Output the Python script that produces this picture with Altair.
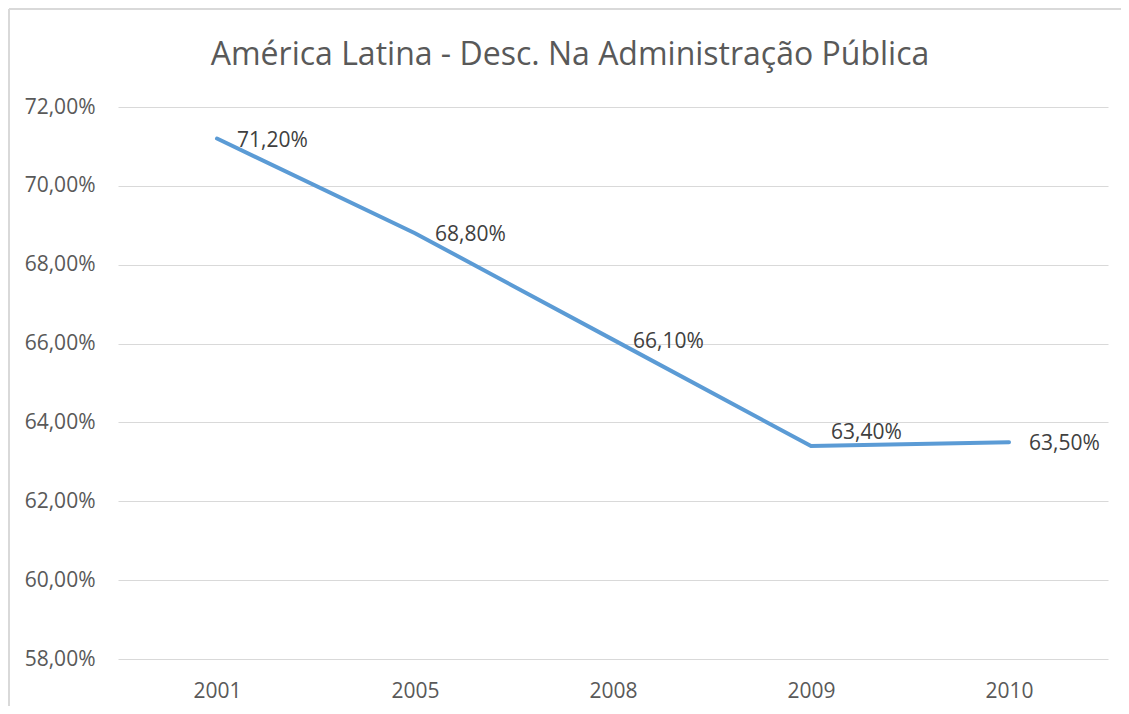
import altair as alt
import pandas as pd

years = ["2001", "2005", "2008", "2009", "2010"]
values = [71.20, 68.80, 66.10, 63.40, 63.50]
y_ticks = [58, 60, 62, 64, 66, 68, 70, 72]
title_text = "América Latina - Desc. Na Administração Pública"

df = pd.DataFrame({"ano": years, "valor": values})

FONT = "Open Sans"
GRAY = "#595959"
FS = 21

x_enc = alt.X("ano:N", sort=years, title=None,
              scale=alt.Scale(padding=0.5),
              axis=alt.Axis(labelAngle=0, domain=False, ticks=False, tickSize=0,
                            grid=False, labelFontSize=FS, labelFont=FONT,
                            labelColor=GRAY, labelPadding=21))
y_enc = alt.Y("valor:Q", title=None,
              scale=alt.Scale(domain=[58, 72], nice=False, zero=False),
              axis=alt.Axis(values=y_ticks, domain=False, ticks=False, tickSize=0,
                            grid=True, gridColor="#D9D9D9", gridWidth=1,
                            labelFontSize=FS, labelFont=FONT, labelColor=GRAY,
                            labelPadding=23,
                            labelExpr="replace(format(datum.value, '.2f'), '.', ',') + '%'"))

base = alt.Chart(df)

line = base.mark_line(color="#5B9BD5", strokeWidth=4, strokeCap="round").encode(x=x_enc, y=y_enc)

label_calc = "replace(format(datum.valor, '.2f'), '.', ',') + '%'"

labels = base.transform_filter("datum.ano != '2009'").transform_calculate(
    lbl=label_calc
).mark_text(align="left", baseline="middle", dx=20, dy=2, fontSize=FS,
            font=FONT, color="#404040").encode(x=alt.X("ano:N", sort=years),
                                               y="valor:Q", text="lbl:N")

label_2009 = base.transform_filter("datum.ano == '2009'").transform_calculate(
    lbl=label_calc
).mark_text(align="left", baseline="middle", dx=20, dy=-13, fontSize=FS,
            font=FONT, color="#404040").encode(x=alt.X("ano:N", sort=years),
                                               y="valor:Q", text="lbl:N")

frame_df = pd.DataFrame({"a": [0]})
border_top = alt.Chart(frame_df).mark_rule(color="#D9D9D9", strokeWidth=2).encode(
    x=alt.value(-109), x2=alt.value(1030), y=alt.value(-98))
border_left = alt.Chart(frame_df).mark_rule(color="#D9D9D9", strokeWidth=2).encode(
    x=alt.value(-109), y=alt.value(-98), y2=alt.value(640))

chart = alt.layer(border_top, border_left, line, labels, label_2009).properties(
    width=990, height=552,
    title=alt.Title(title_text, fontSize=32, font=FONT, color=GRAY,
                    fontWeight="normal", anchor="middle", dx=-43, offset=0,
                    baseline="alphabetic", dy=89),
    autosize=alt.AutoSizeParams(type="none"),
    padding={"left": 110, "top": 99, "right": 13, "bottom": 47},
).configure_view(stroke=None)

chart.save("out.html", embed_options={"renderer": "svg", "actions": False})
